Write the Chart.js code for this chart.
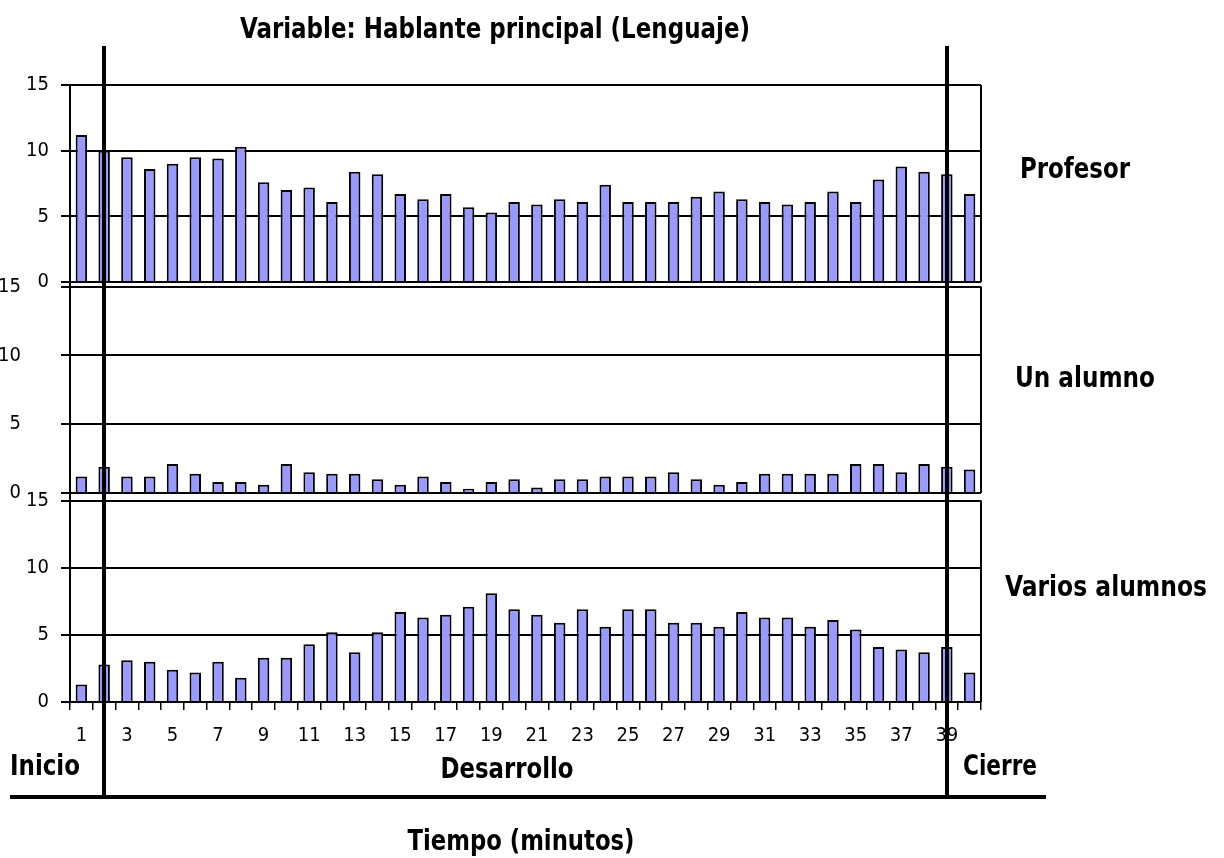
<!DOCTYPE html>
<html>
<head>
<meta charset="utf-8">
<script src="https://cdn.jsdelivr.net/npm/chart.js@4.4.0/dist/chart.umd.min.js"></script>
<style>
  html, body { margin: 0; padding: 0; background: #fff; }
  #wrap { position: relative; width: 1224px; height: 858px; }
</style>
</head>
<body>
<div id="wrap"><canvas id="chart" width="1224" height="858"></canvas></div>
<script>
// minutos 1..40
const minutes = ['1', '2', '3', '4', '5', '6', '7', '8', '9', '10',
  '11', '12', '13', '14', '15', '16', '17', '18', '19', '20',
  '21', '22', '23', '24', '25', '26', '27', '28', '29', '30',
  '31', '32', '33', '34', '35', '36', '37', '38', '39', '40'];

const profesor = [11.2, 10.0, 9.5, 8.6, 9.0, 9.5, 9.4, 10.3, 7.6, 7.0,
  7.2, 6.1, 8.4, 8.2, 6.7, 6.3, 6.7, 5.7, 5.3, 6.1,
  5.9, 6.3, 6.1, 7.4, 6.1, 6.1, 6.1, 6.5, 6.9, 6.3,
  6.1, 5.9, 6.1, 6.9, 6.1, 7.8, 8.8, 8.4, 8.2, 6.7];

const unAlumno = [1.2, 1.9, 1.2, 1.2, 2.1, 1.4, 0.8, 0.8, 0.6, 2.1,
  1.5, 1.4, 1.4, 1.0, 0.6, 1.2, 0.8, 0.3, 0.8, 1.0,
  0.4, 1.0, 1.0, 1.2, 1.2, 1.2, 1.5, 1.0, 0.6, 0.8,
  1.4, 1.4, 1.4, 1.4, 2.1, 2.1, 1.5, 2.1, 1.9, 1.7];

const variosAlumnos = [1.3, 2.8, 3.1, 3.0, 2.4, 2.2, 3.0, 1.8, 3.3, 3.3,
  4.3, 5.2, 3.7, 5.2, 6.7, 6.3, 6.5, 7.1, 8.1, 6.9,
  6.5, 5.9, 6.9, 5.6, 6.9, 6.9, 5.9, 5.9, 5.6, 6.7,
  6.3, 6.3, 5.6, 6.1, 5.4, 4.1, 3.9, 3.7, 4.1, 2.2];

const yTicks = [0, 5, 10, 15];
const panelNames = ['Profesor', 'Un alumno', 'Varios alumnos'];
const phases = ['Inicio', 'Desarrollo', 'Cierre'];
const title = 'Variable: Hablante principal (Lenguaje)';
const xTitle = 'Tiempo (minutos)';

const narrow = '"Liberation Sans Narrow", "Arial Narrow", "DejaVu Sans Condensed", sans-serif';
Chart.defaults.font.family = narrow;
Chart.defaults.color = '#000';

const barStyle = {
  backgroundColor: '#9999ff',
  borderColor: '#000',
  borderWidth: 2,
  grouped: false,
  barPercentage: 0.9,
  categoryPercentage: 0.56
};

function panelAxis(weight, stackWeight, max, pad) {
  return {
    type: 'linear',
    position: 'left',
    stack: 'panels',
    weight: weight,
    stackWeight: stackWeight,
    min: 0,
    max: max,
    afterBuildTicks: s => { s.ticks = yTicks.map(v => ({ value: v })); },
    afterFit: s => { s.width = 70; },
    ticks: { padding: pad, font: { size: 20 }, color: '#000' },
    grid: { color: '#000', lineWidth: 2, tickLength: 9 },
    border: { color: '#000', width: 2 }
  };
}

// texto bold estrechado al ancho que tiene en la imagen
function fitText(ctx, text, cx, cy, w, size) {
  ctx.font = 'bold ' + size + 'px ' + narrow;
  const m = ctx.measureText(text).width;
  ctx.save();
  ctx.translate(cx, cy);
  ctx.scale(Math.min(1, w / m), 1);
  ctx.fillText(text, 0, 0);
  ctx.restore();
}

// lineas, marco derecho y textos
const decor = {
  id: 'decor',
  afterDraw(chart) {
    const ctx = chart.ctx;
    const x = chart.scales.x;
    const area = chart.chartArea;
    ctx.save();
    ctx.strokeStyle = '#000';

    ctx.lineWidth = 2;
    ['yProf', 'yUno', 'yVar'].forEach(id => {
      const s = chart.scales[id];
      ctx.beginPath();
      ctx.moveTo(area.right, s.getPixelForValue(15));
      ctx.lineTo(area.right, s.getPixelForValue(0));
      ctx.stroke();
    });

    ctx.lineWidth = 4;
    [1, 38].forEach(i => {
      const px = Math.round(x.getPixelForValue(i));
      ctx.beginPath();
      ctx.moveTo(px, 46);
      ctx.lineTo(px, 799);
      ctx.stroke();
    });
    ctx.beginPath();
    ctx.moveTo(10, 797);
    ctx.lineTo(1046, 797);
    ctx.stroke();

    ctx.fillStyle = '#000';
    ctx.textBaseline = 'middle';
    ctx.textAlign = 'center';
    fitText(ctx, title, 495, 31, 510, 28);

    fitText(ctx, panelNames[0], 1075, 171, 110, 28);
    fitText(ctx, panelNames[1], 1085, 380, 140, 28);
    fitText(ctx, panelNames[2], 1106, 589, 202, 28);

    fitText(ctx, phases[0], 45, 768, 70, 28);
    fitText(ctx, phases[1], 507, 771, 133, 28);
    fitText(ctx, phases[2], 1000, 768, 74, 28);

    fitText(ctx, xTitle, 521, 843, 227, 28);
    ctx.restore();
  }
};

new Chart(document.getElementById('chart'), {
  type: 'bar',
  data: {
    labels: minutes,
    datasets: [
      Object.assign({ label: panelNames[0], data: profesor, yAxisID: 'yProf' }, barStyle),
      Object.assign({ label: panelNames[1], data: unAlumno, yAxisID: 'yUno' }, barStyle),
      Object.assign({ label: panelNames[2], data: variosAlumnos, yAxisID: 'yVar' }, barStyle)
    ]
  },
  options: {
    responsive: false,
    animation: false,
    devicePixelRatio: 1,
    layout: { padding: { left: 0, top: 85, right: 243, bottom: 116 } },
    plugins: { legend: { display: false }, tooltip: { enabled: false } },
    scales: {
      x: {
        type: 'category',
        afterFit: s => { s.height = 40; },
        ticks: {
          autoSkip: false,
          maxRotation: 0,
          padding: 14,
          font: { size: 20 },
          color: '#000',
          callback: (v, i) => (i % 2 === 0 ? minutes[i] : '')
        },
        grid: { drawOnChartArea: false, color: '#000', lineWidth: 1.5, tickLength: 8 },
        border: { color: '#000', width: 2 }
      },
      yProf: panelAxis(3, 197, 15, 12),
      yUno: panelAxis(2, 211, 15.33, 40),
      yVar: panelAxis(1, 209, 15.56, 12)
    }
  },
  plugins: [decor]
});
</script>
</body>
</html>
